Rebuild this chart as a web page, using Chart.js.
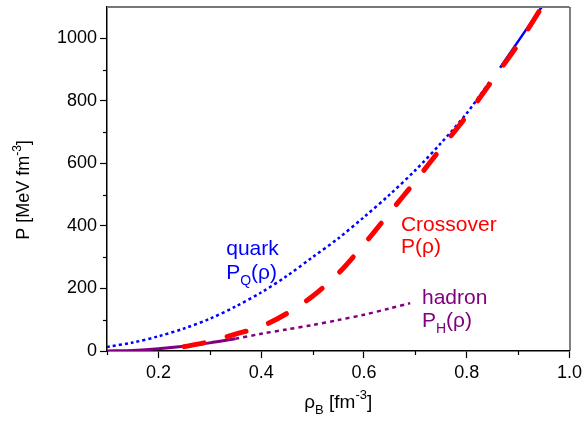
<!DOCTYPE html>
<html>
<head>
<meta charset="utf-8">
<script src="https://cdn.jsdelivr.net/npm/chart.js@4.4.1/dist/chart.umd.min.js"></script>
<style>
  html, body { margin: 0; padding: 0; background: #fff; }
  #wrap { width: 586px; height: 428px; }
</style>
</head>
<body>
<div id="wrap"><canvas id="eosChart" width="586" height="428"></canvas></div>
<script>
// density rho_B [fm^-3] and pressure P [MeV fm^-3]
const crossRho = [0.25, 0.30, 0.35, 0.40, 0.45, 0.50, 0.55, 0.60, 0.65, 0.70, 0.75, 0.80, 0.85, 0.90, 0.95];
const crossP   = [14, 30, 54, 78, 120, 175, 248, 341, 442, 543, 648, 752, 866, 980, 1110];

const quarkRho = [0.10, 0.15, 0.20, 0.25, 0.30, 0.35, 0.40, 0.45, 0.50, 0.55, 0.60, 0.65, 0.70, 0.75, 0.80, 0.845];
const quarkP   = [13, 27, 47, 72, 103, 142, 187, 240, 300, 360, 428, 500, 578, 665, 760, 862];
const quarkHiRho = [0.865, 0.90, 0.95];
const quarkHiP   = [906, 990, 1110];

const hadronRho = [0.10, 0.15, 0.20, 0.25, 0.30, 0.35];
const hadronP   = [0, 2, 7, 15, 26, 39];
const hadronDotRho = [0.35, 0.40, 0.45, 0.50, 0.55, 0.60, 0.65, 0.69];
const hadronDotP   = [39, 55, 69, 83, 99, 116, 136, 153];

const xTicks = [0.2, 0.4, 0.6, 0.8, 1.0];
const yTicks = [0, 200, 400, 600, 800, 1000];

const pts = (xs, ys) => xs.map((x, i) => ({ x: x, y: ys[i] }));

const BLUE = '#0000ff', RED = '#ff0000', PURPLE = '#800080';
const FONT = '"Liberation Sans", Arial, sans-serif';

// curve labels: [parts, rho, P, colour]
const curveLabels = [
  [[{ t: 'quark' }], 0.332, 307, BLUE],
  [[{ t: 'P' }, { t: 'Q', sub: true }, { t: '(ρ)' }], 0.332, 230, BLUE],
  [[{ t: 'Crossover' }], 0.672, 384, RED],
  [[{ t: 'P(ρ)' }], 0.672, 314, RED],
  [[{ t: 'hadron' }], 0.713, 150, PURPLE],
  [[{ t: 'P' }, { t: 'H', sub: true }, { t: '(ρ)' }], 0.713, 77, PURPLE]
];

function richWidth(ctx, parts, size) {
  let w = 0;
  parts.forEach(p => {
    ctx.font = ((p.sub || p.sup) ? Math.round(size * 0.68) : size) + 'px ' + FONT;
    w += ctx.measureText(p.t).width;
  });
  return w;
}

function drawRich(ctx, parts, x, y, size) {
  parts.forEach(p => {
    const s = (p.sub || p.sup) ? Math.round(size * 0.68) : size;
    ctx.font = s + 'px ' + FONT;
    const dy = p.sub ? size * 0.3 : (p.sup ? -size * 0.45 : 0);
    ctx.fillText(p.t, x, y + dy);
    x += ctx.measureText(p.t).width;
  });
}

const extras = {
  id: 'extras',
  afterDraw(chart) {
    const ctx = chart.ctx;
    const a = chart.chartArea;
    const xs = chart.scales.x, ys = chart.scales.y;
    ctx.save();
    // frame: top and right
    ctx.strokeStyle = '#777';
    ctx.lineWidth = 2;
    ctx.beginPath(); ctx.moveTo(a.left, a.top); ctx.lineTo(a.right, a.top); ctx.stroke();
    ctx.strokeStyle = '#000';
    ctx.lineWidth = 1;
    ctx.beginPath(); ctx.moveTo(a.right + 0.5, a.top); ctx.lineTo(a.right + 0.5, a.bottom); ctx.stroke();

    // minor ticks
    ctx.lineWidth = 1.2;
    xs.ticks.forEach(t => {
      if (xTicks.some(v => Math.abs(v - t.value) < 1e-6)) return;
      const px = Math.round(xs.getPixelForValue(t.value)) + 0.5;
      ctx.beginPath(); ctx.moveTo(px, a.bottom); ctx.lineTo(px, a.bottom + 4); ctx.stroke();
    });
    ys.ticks.forEach(t => {
      if (yTicks.includes(t.value) || t.value >= ys.max) return;
      const py = Math.round(ys.getPixelForValue(t.value)) + 0.5;
      ctx.beginPath(); ctx.moveTo(a.left, py); ctx.lineTo(a.left - 4, py); ctx.stroke();
    });

    // curve labels
    ctx.textBaseline = 'alphabetic';
    ctx.textAlign = 'left';
    curveLabels.forEach(l => {
      ctx.fillStyle = l[3];
      drawRich(ctx, l[0], xs.getPixelForValue(l[1]), ys.getPixelForValue(l[2]), 21);
    });

    // axis titles
    ctx.fillStyle = '#000';
    const xt = [{ t: 'ρ' }, { t: 'B', sub: true }, { t: ' [fm' }, { t: '-3', sup: true }, { t: ']' }];
    const xw = richWidth(ctx, xt, 19);
    drawRich(ctx, xt, (a.left + a.right) / 2 - xw / 2, 408, 19);

    const yt = [{ t: 'P [MeV fm' }, { t: '-3', sup: true }, { t: ']' }];
    const yw = richWidth(ctx, yt, 18);
    ctx.translate(29, 190);
    ctx.rotate(-Math.PI / 2);
    drawRich(ctx, yt, -yw / 2, 0, 18);
    ctx.restore();
  }
};

const majorOnly = (list) => (c) => list.some(v => Math.abs(v - c.tick.value) < 1e-6) ? '#000' : 'rgba(0,0,0,0)';

new Chart(document.getElementById('eosChart'), {
  type: 'line',
  data: {
    datasets: [
      {
        label: 'Crossover P(ρ)',
        data: pts(crossRho, crossP),
        borderColor: RED,
        borderWidth: 5,
        borderDash: [20, 24],
        borderCapStyle: 'round',
        tension: 0.3
      },
      {
        label: 'hadron',
        data: pts(hadronRho, hadronP),
        borderColor: PURPLE,
        borderWidth: 3,
        tension: 0.3
      },
      {
        label: 'hadron dotted',
        data: pts(hadronDotRho, hadronDotP),
        borderColor: PURPLE,
        borderWidth: 2.5,
        borderDash: [4, 4],
        tension: 0.3
      },
      {
        label: 'quark',
        data: pts(quarkRho, quarkP),
        borderColor: BLUE,
        borderWidth: 2.5,
        borderDash: [3, 3],
        tension: 0.3
      },
      {
        label: 'quark high density',
        data: pts(quarkHiRho, quarkHiP),
        borderColor: BLUE,
        borderWidth: 2.5,
        tension: 0.3
      }
    ]
  },
  options: {
    responsive: false,
    animation: false,
    devicePixelRatio: 1,
    layout: { padding: { top: 7, right: 15, left: 0, bottom: 0 } },
    elements: { point: { radius: 0 } },
    plugins: { legend: { display: false }, tooltip: { enabled: false } },
    scales: {
      x: {
        type: 'linear',
        min: 0.1,
        max: 1.0,
        afterFit: (s) => { s.height = 77; },
        ticks: {
          stepSize: 0.1,
          autoSkip: false,
          maxRotation: 0,
          color: '#000',
          padding: 4,
          font: { family: FONT, size: 18 },
          callback: (v) => xTicks.some(t => Math.abs(t - v) < 1e-6) ? Number(v).toFixed(1) : ''
        },
        grid: { drawOnChartArea: false, tickLength: 7, tickWidth: 1.2, tickColor: majorOnly(xTicks) },
        border: { color: '#000', width: 1.5 }
      },
      y: {
        type: 'linear',
        min: 0,
        max: 1100,
        afterFit: (s) => { s.width = 107; s.paddingTop = 0; s.paddingBottom = 0; },
        ticks: {
          stepSize: 100,
          autoSkip: false,
          color: '#000',
          padding: 3,
          font: { family: FONT, size: 18 },
          callback: (v) => yTicks.includes(v) ? String(v) : ''
        },
        grid: { drawOnChartArea: false, tickLength: 7, tickWidth: 1.2, tickColor: majorOnly(yTicks) },
        border: { color: '#000', width: 1.5 }
      }
    }
  },
  plugins: [extras]
});
</script>
</body>
</html>
